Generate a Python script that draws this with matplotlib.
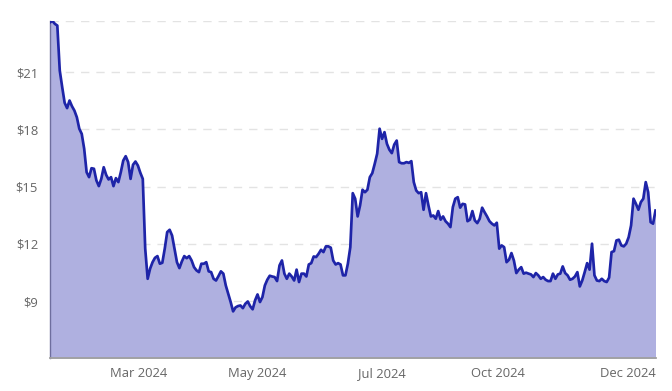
import matplotlib
matplotlib.use("Agg")
import matplotlib.pyplot as plt
import numpy as np

# ---- data ----
prices = [
    23.62, 23.69, 23.54, 23.45, 21.09, 20.22, 19.40, 19.12, 19.52, 19.22,
    18.99, 18.64, 18.04, 17.77, 16.99, 15.76, 15.50, 15.97, 15.94, 15.33,
    15.03, 15.41, 16.02, 15.62, 15.38, 15.50, 15.03, 15.45, 15.24, 15.76,
    16.37, 16.60, 16.29, 15.41, 16.15, 16.32, 16.11, 15.73, 15.41, 11.75,
    10.17, 10.70, 11.04, 11.27, 11.36, 10.96, 11.01, 11.75, 12.62, 12.74,
    12.44, 11.75, 11.04, 10.73, 11.08, 11.36, 11.25, 11.36, 11.13, 10.78,
    10.61, 10.52, 10.96, 10.96, 11.04, 10.56, 10.52, 10.17, 10.08, 10.31,
    10.56, 10.44, 9.82, 9.39, 8.95, 8.46, 8.67, 8.74, 8.77, 8.63,
    8.86, 8.98, 8.73, 8.57, 9.04, 9.35, 8.95, 9.21, 9.82, 10.12,
    10.33, 10.29, 10.26, 10.05, 10.87, 11.13, 10.44, 10.17, 10.44, 10.29,
    10.08, 10.65, 10.00, 10.44, 10.44, 10.29, 10.92, 10.99, 11.34, 11.31,
    11.48, 11.69, 11.57, 11.87, 11.87, 11.80, 11.13, 10.92, 10.99, 10.92,
    10.35, 10.35, 10.96, 11.83, 14.66, 14.37, 13.44, 14.02, 14.84, 14.71,
    14.84, 15.50, 15.71, 16.20, 16.73, 18.04, 17.51, 17.86, 17.25, 16.94,
    16.76, 17.21, 17.42, 16.29, 16.23, 16.23, 16.29, 16.25, 16.34, 15.24,
    14.80, 14.66, 14.71, 13.79, 14.66, 14.02, 13.44, 13.49, 13.32, 13.72,
    13.27, 13.44, 13.19, 13.06, 12.88, 13.93, 14.37, 14.45, 13.90, 14.10,
    14.07, 13.19, 13.27, 13.72, 13.23, 13.09, 13.32, 13.90, 13.66, 13.44,
    13.19, 13.06, 12.97, 13.11, 11.75, 11.92, 11.83, 11.04, 11.17, 11.52,
    11.13, 10.47, 10.65, 10.78, 10.44, 10.49, 10.44, 10.40, 10.26, 10.47,
    10.35, 10.17, 10.26, 10.12, 10.05, 10.05, 10.44, 10.17, 10.40, 10.44,
    10.82, 10.47, 10.35, 10.12, 10.17, 10.29, 10.52, 9.77, 10.08, 10.52,
    10.99, 10.65, 12.01, 10.35, 10.08, 10.05, 10.17, 10.05, 10.00, 10.23,
    11.57, 11.62, 12.18, 12.22, 11.92, 11.87, 12.01, 12.35, 12.97, 14.37,
    14.10, 13.79, 14.19, 14.37, 15.24, 14.71, 13.14, 13.06, 13.75,
]
x_tick_labels = ["Mar 2024", "May 2024", "Jul 2024", "Oct 2024", "Dec 2024"]
y_ticks = [9, 12, 15, 18, 21]
y_floor = 6

# ---- plot ----
plt.rcParams["font.family"] = ["Open Sans", "DejaVu Sans"]
fig = plt.figure(figsize=(6.72, 3.91), dpi=100)
ax = fig.add_axes([50 / 672, (391 - 358.3) / 391, (655.5 - 50) / 672, (358.3 - 21) / 391])

x = np.arange(len(prices))
vals = np.array(prices)
ymax = vals.max()

line_color = "#1e24a8"
ax.fill_between(x, vals, y_floor, color="#afb0e0", lw=0, zorder=2)
ax.plot(x, vals, color=line_color, lw=1.95, zorder=3, solid_joinstyle="round")

ax.set_xlim(0, len(prices) - 1)
ax.set_ylim(y_floor, ymax)

for yv in y_ticks + [ymax]:
    ax.axhline(yv, color="#e3e3e3", lw=1, dashes=(6, 5), zorder=1)

ax.set_yticks(y_ticks)
ax.set_yticklabels([f"${v}" for v in y_ticks])
tick_pos = [36.5, 85, 136, 183.5, 236.5]
ax.set_xticks(tick_pos)
ax.set_xticklabels(x_tick_labels)

ax.tick_params(axis="both", length=0, colors="#666666", labelsize=9.4)
ax.tick_params(axis="y", pad=8.6)
ax.tick_params(axis="x", pad=6.5)

for s in ["top", "right"]:
    ax.spines[s].set_visible(False)
ax.spines["bottom"].set_color("#a0a0a0")
ax.spines["bottom"].set_linewidth(1.3)
ax.spines["left"].set_color("#6e6e9e")
ax.spines["left"].set_linewidth(1.0)

fig.savefig("out.png", dpi=100)
